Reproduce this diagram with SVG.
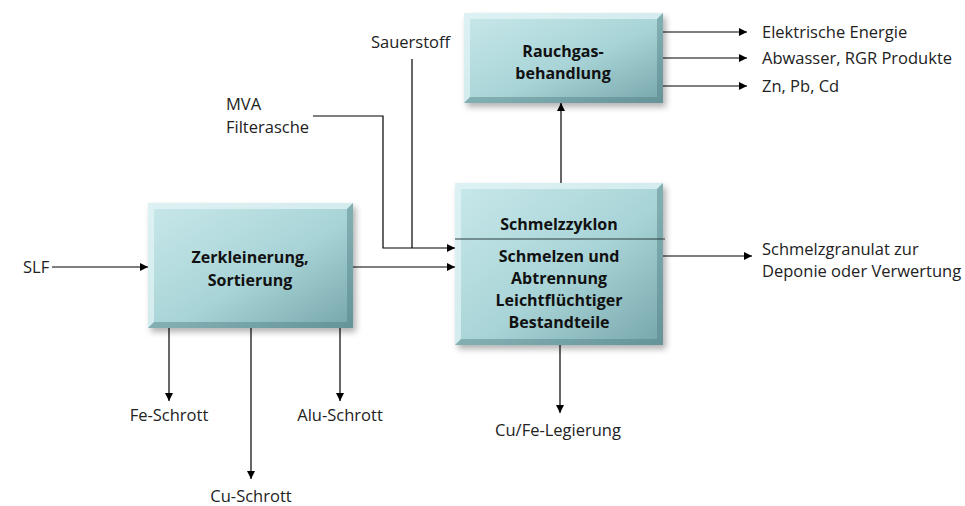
<svg xmlns="http://www.w3.org/2000/svg" width="965" height="506" viewBox="0 0 965 506">
  <defs>
    <linearGradient id="boxFill" x1="0" y1="0" x2="1" y2="1">
      <stop offset="0" stop-color="#c9e8ea"/>
      <stop offset="0.55" stop-color="#a8d4d7"/>
      <stop offset="1" stop-color="#76a5a9"/>
    </linearGradient>
    <filter id="shadow" x="-10%" y="-10%" width="125%" height="130%">
      <feDropShadow dx="3" dy="4" stdDeviation="3" flood-color="#000" flood-opacity="0.3"/>
    </filter>
    <marker id="arrow" viewBox="0 0 10 10" refX="10" refY="5" markerWidth="9" markerHeight="8" markerUnits="userSpaceOnUse" orient="auto">
      <path d="M0,0 L10,5 L0,10 z" fill="#000"/>
    </marker>
    <style>
      .box { fill: url(#boxFill); filter: url(#shadow); }
      .hi { fill: #e6f5f6; opacity: 0.7; }
      .lo { fill: #4f7e82; opacity: 0.45; }
      .title { font-family: "Open Sans", Lato, "Liberation Sans", sans-serif; font-weight: bold; font-size: 16px; fill: #111; text-anchor: middle; }
      .lbl { font-family: "Open Sans", Lato, "Liberation Sans", sans-serif; font-size: 16.5px; fill: #222; }
      .mid { text-anchor: middle; }
      .conn { stroke: #000; stroke-width: 1.2; fill: none; }
      .arr { marker-end: url(#arrow); }
    </style>
  </defs>

  <!-- connectors -->
  <g id="connectors">
    <line class="conn arr" x1="52" y1="267" x2="148" y2="267"/>
    <line class="conn arr" x1="353" y1="267" x2="455" y2="267"/>
    <polyline class="conn arr" points="313,116 383,116 383,248 455,248"/>
    <line class="conn" x1="412" y1="59" x2="412" y2="248"/>
    <line class="conn arr" x1="561" y1="183" x2="561" y2="103"/>
    <line class="conn arr" x1="663" y1="32" x2="747" y2="32"/>
    <line class="conn arr" x1="663" y1="58" x2="747" y2="58"/>
    <line class="conn arr" x1="663" y1="86" x2="747" y2="86"/>
    <line class="conn arr" x1="663" y1="256" x2="752" y2="256"/>
    <line class="conn arr" x1="169" y1="328" x2="169" y2="401"/>
    <line class="conn arr" x1="251" y1="328" x2="251" y2="479"/>
    <line class="conn arr" x1="340" y1="328" x2="340" y2="401"/>
    <line class="conn arr" x1="560" y1="345" x2="560" y2="413"/>
  </g>

  <!-- Zerkleinerung, Sortierung -->
  <g id="node-zerkleinerung">
    <rect class="box" x="148" y="203" width="205" height="125"/>
    <path class="hi" d="M148,203 H353 L347,209 H154 V322 L148,328 z"/>
    <path class="lo" d="M353,203 V328 H148 L154,322 H347 V209 z"/>
    <text class="title" x="250" y="263">Zerkleinerung,</text>
    <text class="title" x="250" y="286">Sortierung</text>
  </g>

  <!-- Schmelzzyklon -->
  <g id="node-schmelzzyklon">
    <rect class="box" x="455" y="183" width="208" height="162"/>
    <path class="hi" d="M455,183 H663 L657,189 H461 V339 L455,345 z"/>
    <path class="lo" d="M663,183 V345 H455 L461,339 H657 V189 z"/>
    <line x1="455" y1="239" x2="665" y2="239" stroke="#2b3d3f" stroke-width="1.2"/>
    <text class="title" x="559" y="230">Schmelzzyklon</text>
    <text class="title" x="559" y="262">Schmelzen und</text>
    <text class="title" x="559" y="284">Abtrennung</text>
    <text class="title" x="559" y="306">Leichtflüchtiger</text>
    <text class="title" x="559" y="328">Bestandteile</text>
  </g>

  <!-- Rauchgasbehandlung -->
  <g id="node-rauchgas">
    <rect class="box" x="464" y="13" width="199" height="90"/>
    <path class="hi" d="M464,13 H663 L657,19 H470 V97 L464,103 z"/>
    <path class="lo" d="M663,13 V103 H464 L470,97 H657 V19 z"/>
    <text class="title" x="563" y="57">Rauchgas-</text>
    <text class="title" x="563" y="79">behandlung</text>
  </g>

  <!-- labels -->
  <g id="labels">
    <text class="lbl" x="23" y="273">SLF</text>
    <text class="lbl" x="226" y="110">MVA</text>
    <text class="lbl" x="226" y="133">Filterasche</text>
    <text class="lbl" x="371" y="48">Sauerstoff</text>
    <text class="lbl" x="762" y="38">Elektrische Energie</text>
    <text class="lbl" x="762" y="64">Abwasser, RGR Produkte</text>
    <text class="lbl" x="762" y="92">Zn, Pb, Cd</text>
    <text class="lbl" x="762" y="255">Schmelzgranulat zur</text>
    <text class="lbl" x="762" y="277">Deponie oder Verwertung</text>
    <text class="lbl mid" x="169" y="421">Fe-Schrott</text>
    <text class="lbl mid" x="340" y="421">Alu-Schrott</text>
    <text class="lbl mid" x="251" y="502">Cu-Schrott</text>
    <text class="lbl mid" x="558" y="436">Cu/Fe-Legierung</text>
  </g>
</svg>
